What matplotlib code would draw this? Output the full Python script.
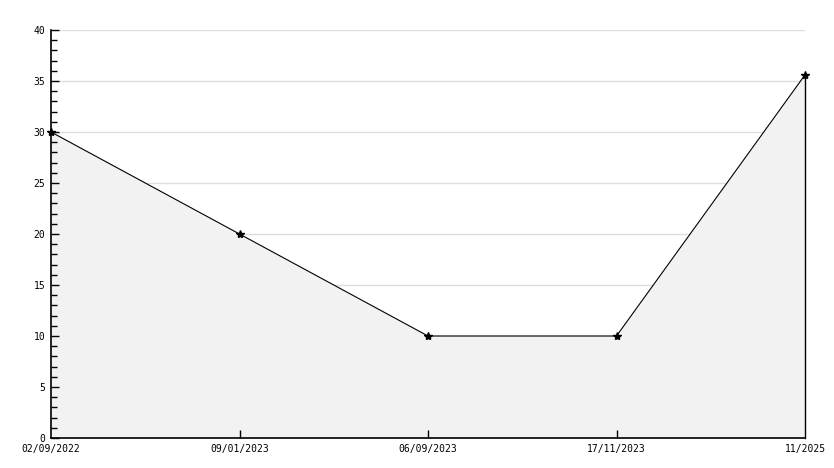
import matplotlib
matplotlib.use("Agg")
import matplotlib.pyplot as plt
from matplotlib.ticker import MultipleLocator

labels = ["02/09/2022", "09/01/2023", "06/09/2023", "17/11/2023", "11/2025"]
values = [30, 20, 10, 10, 35.6]

x = list(range(len(values)))

fig = plt.figure(figsize=(8.34, 4.68), dpi=100)
ax = fig.add_axes([51/834, 30/468, (805-51)/834, (438-30)/468])

ax.set_xlim(x[0], x[-1])
ax.set_ylim(0, 40)
ax.yaxis.set_major_locator(MultipleLocator(5))
ax.yaxis.set_minor_locator(MultipleLocator(1))

for yv in ax.get_yticks():
    if 0 < yv <= 40:
        ax.axhline(yv, color="#dddddd", linewidth=1, zorder=0)

ax.fill_between(x, values, 0, color="#f2f2f2", linewidth=0, zorder=1)
ax.plot([x[-1], x[-1]], [0, values[-1]], color="black", linewidth=1, zorder=3, clip_on=False)
ax.plot(x, values, color="black", linewidth=0.8, marker="*", markersize=6, zorder=4, clip_on=False)

ax.set_xticks(x)
ax.set_xticklabels(labels)
for s in ["top", "right"]:
    ax.spines[s].set_visible(False)
for s in ["left", "bottom"]:
    ax.spines[s].set_linewidth(1.2)
    ax.spines[s].set_zorder(5)

ax.tick_params(axis="y", which="major", direction="in", length=6, width=1, labelsize=7, pad=4)
ax.tick_params(axis="y", which="minor", direction="in", length=4, width=1)
ax.tick_params(axis="x", which="major", direction="in", length=6, width=1, labelsize=7, pad=4)
for lab in ax.get_xticklabels() + ax.get_yticklabels():
    lab.set_family("DejaVu Sans Mono")
xticks = ax.xaxis.get_major_ticks()
for t in (xticks[0], xticks[-1]):
    t.tick1line.set_visible(False)

fig.savefig("out.png", dpi=100)
